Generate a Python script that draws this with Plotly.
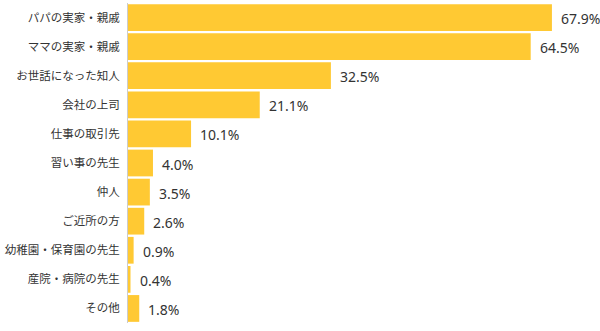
import plotly.graph_objects as go

categories = ["パパの実家・親戚", "ママの実家・親戚", "お世話になった知人", "会社の上司", "仕事の取引先",
              "習い事の先生", "仲人", "ご近所の方", "幼稚園・保育園の先生", "産院・病院の先生", "その他"]
values = [67.9, 64.5, 32.5, 21.1, 10.1, 4.0, 3.5, 2.6, 0.9, 0.4, 1.8]
labels = [f"{v:.1f}%" for v in values]

fig = go.Figure(go.Bar(
    x=values, y=categories, orientation="h",
    marker=dict(color="#FFC933", line=dict(width=0)),
    hoverinfo="skip",
))
for c, v, t in zip(categories, values, labels):
    fig.add_annotation(x=v, y=c, text=t, showarrow=False, xanchor="left", yanchor="middle",
                       xshift=7, yshift=-1,
                       font=dict(family="Noto Sans, sans-serif", size=14, color="#333333"))
fig.update_layout(
    width=600, height=331,
    margin=dict(l=128, r=0, t=3, b=8),
    paper_bgcolor="white", plot_bgcolor="white",
    bargap=0.08, showlegend=False,
    xaxis=dict(range=[0, 75.6], visible=False, fixedrange=True),
    yaxis=dict(autorange="reversed", showline=True, linecolor="#cccccc", linewidth=1,
               ticks="", showgrid=False, ticklabelstandoff=5,
               tickfont=dict(family="Noto Sans CJK JP, sans-serif", size=11.5, color="#333333")),
)
fig.write_html("out.html")
